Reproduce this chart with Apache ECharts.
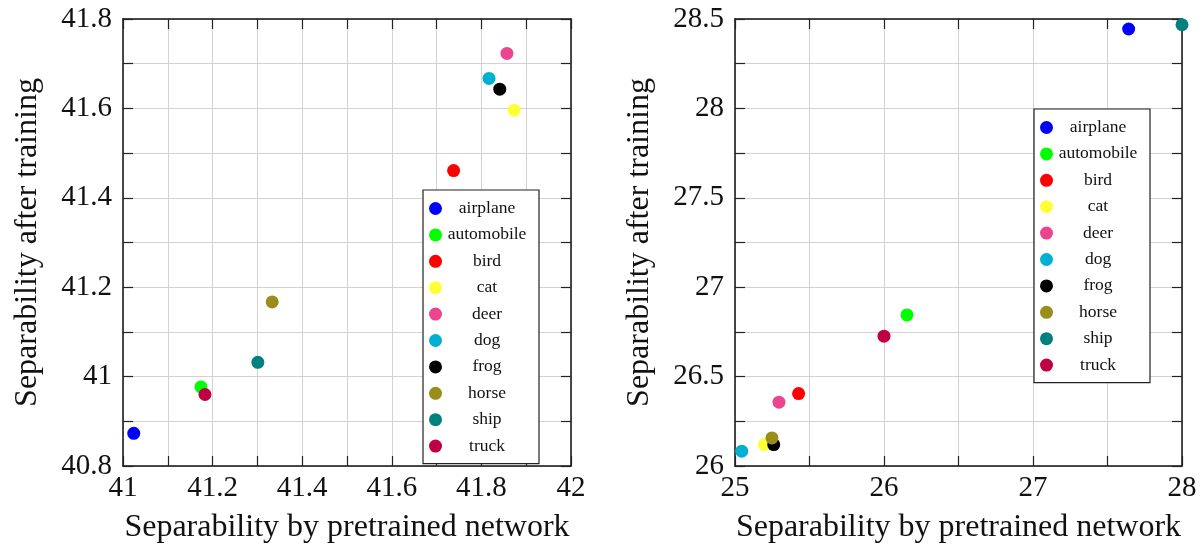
<!DOCTYPE html>
<html>
<head>
<meta charset="utf-8">
<script src="https://cdn.jsdelivr.net/npm/echarts@6/dist/echarts.min.js"></script>
<style>
  html, body { margin: 0; padding: 0; background: #fff; }
  #main { width: 1204px; height: 544px; }
</style>
</head>
<body>
<div id="main"></div>
<script>
var classes = ['airplane', 'automobile', 'bird', 'cat', 'deer', 'dog', 'frog', 'horse', 'ship', 'truck'];
var classColors = ['#0000ff', '#00ff00', '#ff0000', '#ffff38', '#ec4590', '#00b0d0', '#000000', '#998e1a', '#00807f', '#c00044'];

// left panel
var pretrainedA = [41.024, 41.174, 41.738, 41.873, 41.857, 41.817, 41.841, 41.333, 41.301, 41.183];
var trainedA    = [40.873, 40.977, 41.461, 41.596, 41.723, 41.667, 41.643, 41.167, 41.032, 40.960];

// right panel
var pretrainedB = [27.642, 26.154, 25.427, 25.197, 25.295, 25.045, 25.260, 25.248, 28.000, 26.000];
var trainedB    = [28.444, 26.845, 26.405, 26.120, 26.357, 26.083, 26.120, 26.157, 28.468, 26.726];

var xTitle = 'Separability by pretrained network';
var yTitle = 'Separability after training';

var serif = 'Liberation Serif';
var tickStyle = { color: '#222', width: 1.2 };
var gridLine = { lineStyle: { color: '#d2d2d2', width: 1 } };

function mainAxis(gridIndex, pos, min, max, step, name, gap) {
    return {
        type: 'value', gridIndex: gridIndex, position: pos,
        min: min, max: max, interval: step,
        name: name, nameLocation: 'middle', nameGap: gap,
        nameTextStyle: { fontFamily: serif, fontSize: 32, color: '#111' },
        axisLine: { show: true, onZero: false, lineStyle: { color: '#111', width: 1.5 } },
        axisTick: { show: true, inside: true, length: 10, lineStyle: tickStyle },
        minorTick: { show: true, splitNumber: 2, length: 10, lineStyle: tickStyle },
        splitLine: gridLine,
        minorSplitLine: { show: true, lineStyle: { color: '#d2d2d2', width: 1 } },
        axisLabel: {
            fontFamily: serif, fontSize: 29, color: '#111',
            margin: pos == 'bottom' ? 8 : 11,
            showMinLabel: true, showMaxLabel: true
        }
    };
}

function sideAxis(gridIndex, pos, min, max, step) {
    return {
        type: 'value', gridIndex: gridIndex, position: pos,
        min: min, max: max, interval: step,
        axisLine: { show: true, onZero: false, lineStyle: { color: '#111', width: 1.5 } },
        axisTick: { show: true, inside: true, length: 10, lineStyle: tickStyle },
        minorTick: { show: true, splitNumber: 2, length: 10, lineStyle: tickStyle },
        splitLine: { show: false },
        axisLabel: { show: false }
    };
}

function legendFor(left, top) {
    return {
        orient: 'vertical',
        left: left, top: top,
        data: classes,
        icon: 'circle',
        itemWidth: 13, itemHeight: 13, itemGap: 8.4,
        padding: [9.5, 12, 8.5, 6],
        borderColor: '#222', borderWidth: 1.2,
        backgroundColor: '#fff',
        selectedMode: false,
        formatter: '{c|{name}}',
        textStyle: {
            rich: {
                c: { width: 80, align: 'center', fontFamily: serif, fontSize: 17.5, color: '#111', lineHeight: 13 }
            }
        }
    };
}

var series = [];
for (var i = 0; i < classes.length; i++) {
    series.push({
        name: classes[i], type: 'scatter',
        xAxisIndex: 0, yAxisIndex: 0,
        symbolSize: 13, clip: false,
        itemStyle: { color: classColors[i], opacity: 1 },
        data: [[pretrainedA[i], trainedA[i]]]
    });
    series.push({
        name: classes[i], type: 'scatter',
        xAxisIndex: 2, yAxisIndex: 2,
        symbolSize: 13, clip: false,
        itemStyle: { color: classColors[i], opacity: 1 },
        data: [[pretrainedB[i], trainedB[i]]]
    });
}

var dom = document.getElementById('main');
var myChart = echarts.init(dom);
var option = {
    backgroundColor: '#fff',
    animation: false,
    grid: [
        { left: 123, top: 19, width: 448, height: 447, outerBoundsMode: 'none', containLabel: false },
        { left: 735, top: 19, width: 447, height: 447, outerBoundsMode: 'none', containLabel: false }
    ],
    xAxis: [
        mainAxis(0, 'bottom', 41, 42, 0.2, xTitle, 46),
        sideAxis(0, 'top', 41, 42, 0.2),
        mainAxis(1, 'bottom', 25, 28, 1, xTitle, 46),
        sideAxis(1, 'top', 25, 28, 1)
    ],
    yAxis: [
        mainAxis(0, 'left', 40.8, 41.8, 0.2, yTitle, 79),
        sideAxis(0, 'right', 40.8, 41.8, 0.2),
        mainAxis(1, 'left', 26, 28.5, 0.5, yTitle, 79),
        sideAxis(1, 'right', 26, 28.5, 0.5)
    ],
    legend: [legendFor(423, 190), legendFor(1034, 109)],
    series: series
};
if (option && typeof option === "object") {
    myChart.setOption(option, true);
}
</script>
</body>
</html>
